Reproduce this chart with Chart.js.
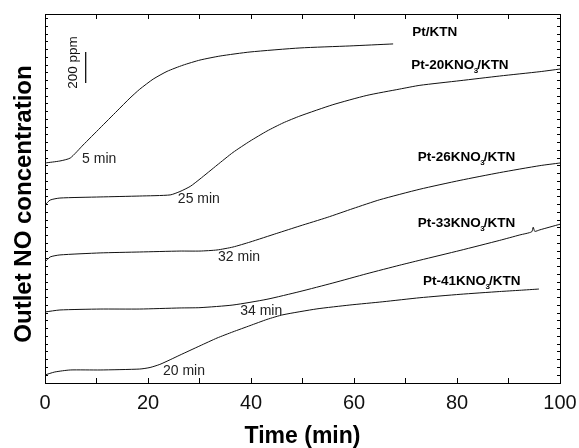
<!DOCTYPE html>
<html>
<head>
<meta charset="utf-8">
<script src="https://cdn.jsdelivr.net/npm/chart.js@4/dist/chart.umd.min.js"></script>
<style>
  html, body { margin: 0; padding: 0; background: #fff; }
  #wrap { width: 579px; height: 448px; }
</style>
</head>
<body>
<div id="wrap"><canvas id="c" width="579" height="448"></canvas></div>
<script>
// ---- Data (time in min, outlet NO in ppm, curves vertically offset) ----
const ptKtnTime = [0, 2.9, 4.9, 7.4, 10.7, 14.0, 16.5, 18.4, 21.0, 23.7, 26.8, 30.1, 34.0, 39.8, 49.5, 59.2, 67.6];
const ptKtnNO   = [1419, 1432, 1451, 1535, 1645, 1755, 1838, 1895, 1960, 2010, 2050, 2083, 2109, 2135, 2161, 2174, 2187];

const pt20Time = [0, 1.0, 2.9, 10.7, 18.4, 24.3, 26.2, 28.2, 30.1, 33.4, 36.5, 39.8, 43.1, 46.2, 49.5, 55.9, 62.5, 68.9, 72.8, 80.6, 88.3, 96.1, 100];
const pt20NO   = [1148, 1180, 1193, 1200, 1206, 1213, 1235, 1268, 1316, 1405, 1487, 1560, 1625, 1677, 1722, 1795, 1855, 1896, 1920, 1950, 1980, 2008, 2025];

const pt26Time = [0, 1.0, 2.9, 10.7, 18.4, 26.2, 30.1, 33.4, 36.5, 39.8, 45.0, 49.5, 54.8, 59.8, 65.0, 72.8, 80.6, 88.3, 96.1, 100];
const pt26NO   = [780, 813, 826, 839, 845, 851, 851, 858, 877, 909, 965, 1013, 1068, 1125, 1182, 1250, 1307, 1357, 1402, 1419];

const pt33Time = [0, 2.9, 10.7, 18.4, 26.2, 30.1, 36.5, 43.1, 49.5, 55.9, 62.5, 68.9, 72.8, 80.6, 88.3, 92.2, 94.5, 94.8, 95.1, 96.1, 100];
const pt33NO   = [458, 471, 477, 477, 484, 486, 503, 540, 590, 645, 705, 760, 792, 855, 920, 955, 975, 1005, 978, 988, 1024];

const pt41Time = [0, 1.9, 4.9, 10.7, 18.4, 20.4, 22.3, 24.3, 26.2, 30.1, 33.4, 36.5, 39.8, 43.1, 46.2, 52.8, 59.2, 65.6, 72.8, 80.6, 88.3, 92.2, 95.9];
const pt41NO   = [52, 71, 84, 84, 90, 100, 120, 150, 180, 240, 290, 330, 370, 410, 440, 478, 503, 524, 550, 572, 590, 598, 606];

// 200 ppm scale bar
const scaleBarTime = [7.9, 7.9];
const scaleBarNO   = [1935, 2135];

const xTickValues = [0, 20, 40, 60, 80, 100];

// ---- Text annotations (data coordinates) ----
const seriesLabels = [
  { parts: ['Pt/KTN'], t: 71.3, v: 2264 },
  { parts: ['Pt-20KNO', '3', '/KTN'], t: 71.1, v: 2051 },
  { parts: ['Pt-26KNO', '3', '/KTN'], t: 72.4, v: 1458 },
  { parts: ['Pt-33KNO', '3', '/KTN'], t: 72.4, v: 1032 },
  { parts: ['Pt-41KNO', '3', '/KTN'], t: 73.4, v: 658 }
];
const timeLabels = [
  { text: '5 min',  t: 7.2,  v: 1445 },
  { text: '25 min', t: 25.8, v: 1187 },
  { text: '32 min', t: 33.6, v: 813 },
  { text: '34 min', t: 37.9, v: 464 },
  { text: '20 min', t: 22.9, v: 77 }
];

function pts(xs, ys) { return xs.map((x, i) => ({ x: x, y: ys[i] })); }
function lineDs(xs, ys, w) {
  return { data: pts(xs, ys), borderColor: '#111', borderWidth: w || 1, pointRadius: 0,
           fill: false, tension: 0.2 };
}

const FONT = "'Liberation Sans', Arial, sans-serif";

const annotPlugin = {
  id: 'annot',
  afterDraw(chart) {
    const ctx = chart.ctx;
    const xs = chart.scales.x, ys = chart.scales.y;
    ctx.save();
    // y-axis title
    ctx.save();
    ctx.translate(24, 204);
    ctx.rotate(-Math.PI / 2);
    ctx.font = "bold 24px " + FONT;
    ctx.fillStyle = '#000';
    ctx.textAlign = 'center';
    ctx.textBaseline = 'middle';
    ctx.fillText('Outlet NO concentration', 0, 0);
    ctx.restore();

    // 200 ppm label
    ctx.save();
    ctx.translate(xs.getPixelForValue(5.4), ys.getPixelForValue(2067));
    ctx.rotate(-Math.PI / 2);
    ctx.font = "13.5px " + FONT;
    ctx.fillStyle = '#111';
    ctx.textAlign = 'center';
    ctx.textBaseline = 'middle';
    ctx.fillText('200 ppm', 0, 0);
    ctx.restore();

    // series labels with subscript
    ctx.textBaseline = 'middle';
    ctx.textAlign = 'left';
    ctx.fillStyle = '#000';
    seriesLabels.forEach(l => {
      let x = xs.getPixelForValue(l.t);
      const y = ys.getPixelForValue(l.v);
      l.parts.forEach((p, i) => {
        if (i === 1) {
          ctx.font = "bold 8px " + FONT;
          ctx.fillText(p, x - 0.5, y + 6);
          x += ctx.measureText(p).width - 1.5;
        } else {
          ctx.font = "bold 13.5px " + FONT;
          ctx.fillText(p, x, y);
          x += ctx.measureText(p).width;
        }
      });
    });

    // time labels
    ctx.font = "14px " + FONT;
    ctx.fillStyle = '#222';
    timeLabels.forEach(l => {
      ctx.fillText(l.text, xs.getPixelForValue(l.t), ys.getPixelForValue(l.v));
    });
    ctx.restore();
  }
};

new Chart(document.getElementById('c'), {
  type: 'line',
  data: {
    datasets: [
      lineDs(ptKtnTime, ptKtnNO),
      lineDs(pt20Time, pt20NO),
      lineDs(pt26Time, pt26NO),
      lineDs(pt33Time, pt33NO),
      lineDs(pt41Time, pt41NO),
      lineDs(scaleBarTime, scaleBarNO, 1.3)
    ]
  },
  options: {
    responsive: false,
    animation: false,
    events: [],
    layout: { padding: { top: 14, right: 19, left: 0, bottom: 0 } },
    plugins: { legend: { display: false }, tooltip: { enabled: false } },
    scales: {
      x: {
        type: 'linear', position: 'bottom', min: 0, max: 100,
        ticks: {
          stepSize: 10, autoSkip: false, maxRotation: 0, padding: 13,
          color: '#111', font: { size: 20, family: FONT },
          callback: v => xTickValues.includes(v) ? String(v) : ''
        },
        grid: { drawOnChartArea: false, tickLength: -5, color: '#000', lineWidth: 1 },
        border: { color: '#000', width: 1 },
        title: { display: true, text: 'Time (min)', color: '#000',
                 font: { size: 23, weight: 'bold', family: FONT, lineHeight: 1 },
                 padding: { top: 0, bottom: 0 } },
        afterFit: s => { s.height = 65; s.paddingLeft = 0; s.paddingRight = 0; }
      },
      x2: {
        type: 'linear', position: 'top', min: 0, max: 100,
        ticks: { display: false, stepSize: 10 },
        grid: { drawOnChartArea: false, tickLength: -5, color: '#000', lineWidth: 1 },
        border: { color: '#000', width: 1 },
        afterFit: s => { s.height = 0; s.paddingLeft = 0; s.paddingRight = 0; }
      },
      y: {
        type: 'linear', position: 'left', min: 0, max: 2380,
        ticks: { display: false, stepSize: 50, includeBounds: false },
        grid: { drawOnChartArea: false, tickLength: -3, color: '#000', lineWidth: 1 },
        border: { color: '#000', width: 1 },
        afterFit: s => { s.width = 45; s.paddingTop = 0; s.paddingBottom = 0; }
      },
      y2: {
        type: 'linear', position: 'right', min: 0, max: 2380,
        ticks: { display: false, stepSize: 50, includeBounds: false },
        grid: { drawOnChartArea: false, tickLength: -3, color: '#000', lineWidth: 1 },
        border: { color: '#000', width: 1 },
        afterFit: s => { s.width = 0; s.paddingTop = 0; s.paddingBottom = 0; }
      }
    }
  },
  plugins: [annotPlugin]
});
</script>
</body>
</html>
